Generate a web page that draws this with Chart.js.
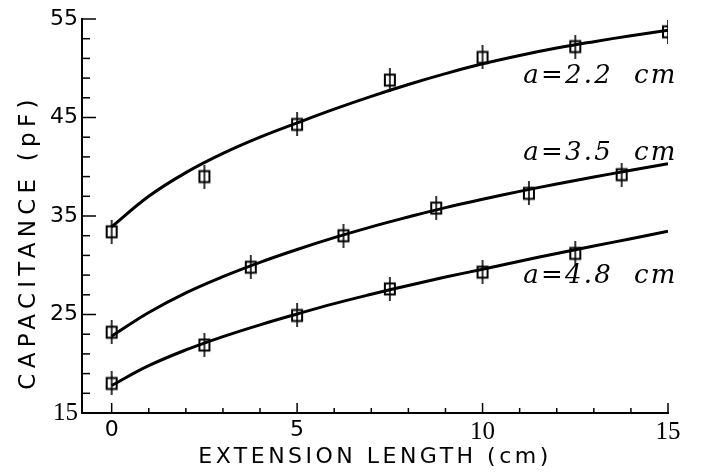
<!DOCTYPE html>
<html>
<head>
<meta charset="utf-8">
<script src="https://cdn.jsdelivr.net/npm/chart.js@4.4.1/dist/chart.umd.min.js"></script>
<style>
body{margin:0;background:#fff}
</style>
</head>
<body>
<canvas id="myChart" width="701" height="472"></canvas>
<script>
var xTicks=[0,5,10,15]
var yTicks=[15,25,35,45,55]
var serifX=[10,15]
var serifY=[15]

// measured points
var ptX22=[0,2.5,5,7.5,10,12.5,15]
var ptY22=[33.4,39.0,44.3,48.8,51.1,52.2,53.7]
var ptX35=[0,3.75,6.25,8.75,11.25,13.75]
var ptY35=[23.2,29.8,33.0,35.8,37.3,39.2]
var ptX48=[0,2.5,5,7.5,10,12.5]
var ptY48=[18.0,21.9,24.9,27.6,29.3,31.2]

// fitted curves
var fitX=[0,1,2,3,4,5,6,7,8,9,10,11,12,13,14,15]
var fit22=[33.9,37.0,39.4,41.35,43.0,44.45,45.85,47.15,48.35,49.45,50.45,51.3,52.05,52.7,53.3,53.85]
var fit35=[22.8,25.2,27.2,28.85,30.3,31.6,32.8,33.9,34.9,35.85,36.7,37.5,38.25,38.95,39.65,40.3]
var fit48=[17.8,19.8,21.4,22.75,23.95,25.05,26.1,27.05,27.95,28.8,29.6,30.4,31.2,31.95,32.7,33.45]

var curveNames=["a=2.2  cm","a=3.5  cm","a=4.8  cm"]

function pts(xs,ys){
    var out=[]
    for(var i=0;i<xs.length;i++) out.push({x:xs[i],y:ys[i]})
    return out
}

function marker(){
    var c=document.createElement("canvas")
    c.width=14
    c.height=24
    var g=c.getContext("2d")
    g.strokeStyle="#000"
    g.lineWidth=2
    g.strokeRect(2,6.5,10,11)
    g.lineWidth=1.6
    g.beginPath()
    g.moveTo(7,0)
    g.lineTo(7,24)
    g.stroke()
    return c
}
var mark=marker()

function fitLine(xs,ys){
    return {data:pts(xs,ys),showLine:true,borderColor:"#000",borderWidth:3,pointRadius:0,
        tension:0.4,fill:false}
}
function dots(xs,ys){
    return {data:pts(xs,ys),showLine:false,pointStyle:mark,pointRadius:7,
        borderColor:"#000",backgroundColor:"#000"}
}

function spaced(c,text,target){
    c.letterSpacing="0px"
    var w=c.measureText(text).width
    c.letterSpacing=Math.max(0,(target-w)/(text.length-1))+"px"
}

var extras={
    id:"extras",
    afterDraw:function(chart){
        var c=chart.ctx
        var xs=chart.scales.x
        var ys=chart.scales.y
        var a=chart.chartArea
        c.save()
        c.strokeStyle="#000"
        c.lineWidth=1.5
        // inward ticks
        for(var v=17;v<=55;v+=2){
            var py=ys.getPixelForValue(v)
            var len=((v-15)%10==0)?14:8
            c.beginPath(); c.moveTo(a.left,py); c.lineTo(a.left+len,py); c.stroke()
        }
        for(var u=0;u<=15;u++){
            var px=xs.getPixelForValue(u)
            var l2=(u%5==0)?10:5
            c.beginPath(); c.moveTo(px,a.bottom); c.lineTo(px,a.bottom-l2); c.stroke()
        }
        // axis titles
        c.fillStyle="#000"
        c.textAlign="center"
        c.textBaseline="alphabetic"
        c.font='22px "DejaVu Sans"'
        spaced(c,"EXTENSION LENGTH (cm)",350)
        c.fillText("EXTENSION LENGTH (cm)",(a.left+a.right)/2,463)
        c.save()
        c.translate(35,(a.top+a.bottom)/2+26)
        c.rotate(-Math.PI/2)
        c.font='23px "DejaVu Sans"'
        spaced(c,"CAPACITANCE (pF)",290)
        c.fillText("CAPACITANCE (pF)",0,0)
        c.restore()
        // curve labels
        c.textAlign="left"
        c.font='italic 26px "DejaVu Serif"'
        var lx=[11.1,11.1,11.1]
        var ly=[48.5,40.7,28.2]
        for(var i=0;i<curveNames.length;i++){
            spaced(c,curveNames[i],152)
            c.fillText(curveNames[i],xs.getPixelForValue(lx[i]),ys.getPixelForValue(ly[i]))
        }
        c.restore()
    }
}

function tickFont(list){
    return function(ctx){
        var serif=ctx.tick && list.indexOf(ctx.tick.value)>=0
        return {family:serif?'"Liberation Serif"':'"DejaVu Sans"',size:serif?25:22}
    }
}

var chart=new Chart(document.getElementById("myChart").getContext("2d"),{
    type:"scatter",
    data:{
        datasets:[
            fitLine(fitX,fit22),fitLine(fitX,fit35),fitLine(fitX,fit48),
            dots(ptX22,ptY22),dots(ptX35,ptY35),dots(ptX48,ptY48)
        ]
    },
    options:{
        responsive:false,
        animation:false,
        devicePixelRatio:1,
        layout:{padding:{top:19,right:33,left:0,bottom:0}},
        plugins:{legend:{display:false},tooltip:{enabled:false}},
        scales:{
            x:{
                type:"linear",min:-0.8,max:15,
                afterBuildTicks:function(s){s.ticks=xTicks.map(function(v){return {value:v}})},
                afterFit:function(s){s.height=59},
                grid:{display:false,drawTicks:false},
                border:{display:true,color:"#000",width:2},
                ticks:{color:"#000",padding:4,maxRotation:0,font:tickFont(serifX)}
            },
            y:{
                type:"linear",min:15,max:55,
                afterBuildTicks:function(s){s.ticks=yTicks.map(function(v){return {value:v}})},
                afterFit:function(s){s.width=82},
                grid:{display:false,drawTicks:false},
                border:{display:true,color:"#000",width:2},
                ticks:{color:"#000",padding:4,font:tickFont(serifY)}
            }
        }
    },
    plugins:[extras]
})
</script>
</body>
</html>
